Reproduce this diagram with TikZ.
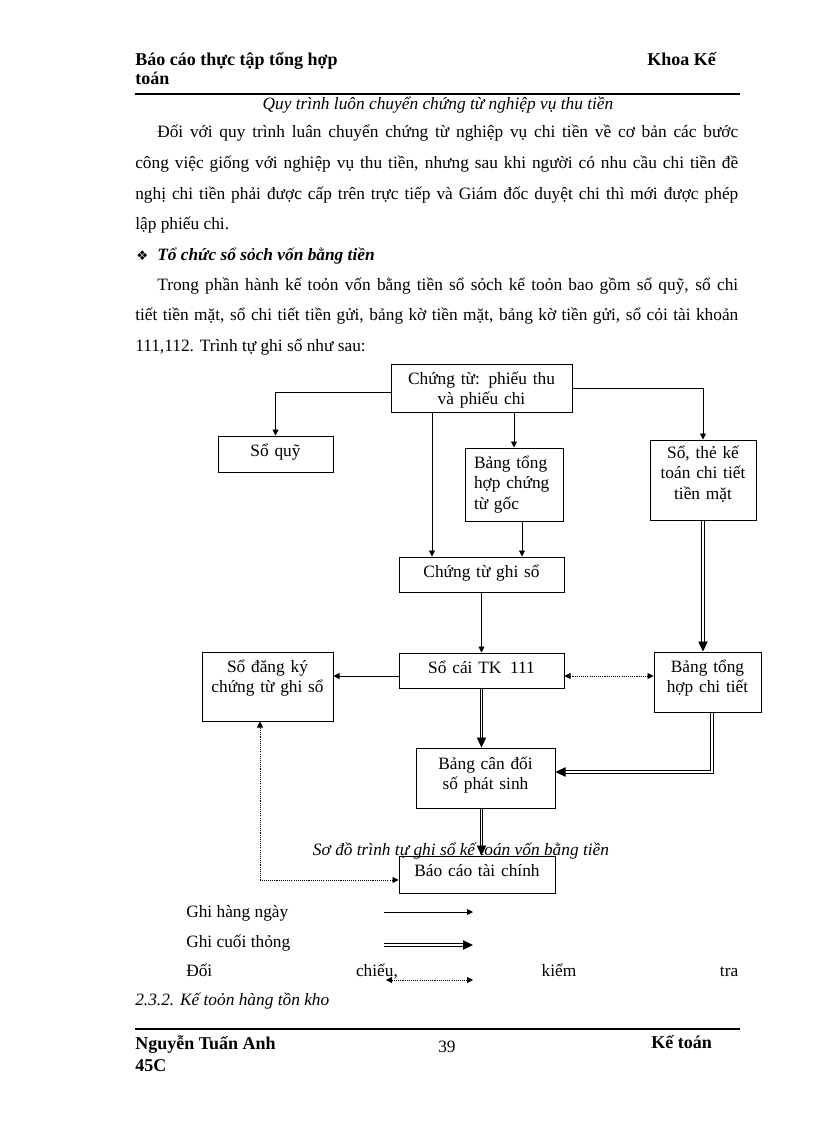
\documentclass[tikz,border=0pt]{standalone}
\usepackage{fontspec}
\setmainfont{Liberation Serif}
\newfontfamily\dingfont{DejaVu Sans}
\usetikzlibrary{arrows.meta}
\newdimen\pxu
\pxu=0.75pt
\newcommand\bodyfont{\fontsize{13}{23}\selectfont}
\newcommand\boxfont{\fontsize{13}{15.4}\selectfont}
\newcommand\hdrfont{\fontsize{13.5}{15}\selectfont\bfseries}
\newcommand\capfont{\fontsize{13}{15}\selectfont\itshape}
\tikzset{
  txt/.style={
    anchor=base west,
    inner sep=0pt,
    font=\bodyfont
  },
  para/.style={
    txt,
    text width=452.25pt,
    align=justify
  },
  box/.style={
    draw,
    line width=0.75pt,
    inner sep=0pt,
    anchor=base,
    align=center,
    font=\boxfont
  },
  dims/.style n args={3}{
    text width=#1\pxu,
    text height=#2\pxu,
    text depth=#3\pxu
  },
  arr/.style={
    -{Triangle[length=4.5pt,width=4.5pt]},
    line width=0.6pt
  },
  dbl/.style={
    -{Triangle[length=7.5pt,width=7pt]},
    double,
    double distance=0.9pt,
    line width=0.7pt
  },
  chk/.style={
    {Triangle[length=4.5pt,width=4.5pt]}-{Triangle[length=4.5pt,width=4.5pt]},
    line width=0.6pt,
    dash pattern=on 0.8pt off 0.8pt
  },
  rule/.style={
    line width=1.5pt
  }
}

\begin{document}
\begin{tikzpicture}[x=0.75pt, y=-0.75pt]
    \path[use as bounding box, fill=white] (0,0) rectangle (816,1123);

    % page header
    \node[txt, font=\hdrfont] (hdl) at (135,66) {Báo cáo thực tập tổng hợp};
    \node[txt, font=\hdrfont] (hdl2) at (135,85) {toán};
    \node[txt, font=\hdrfont] (hdr) at (647,66) {Khoa Kế};
    \draw[rule] (135,94) -- (740,94);
    \node[txt, font=\capfont, anchor=base] (cap1) at (438,110) {Quy trình luôn chuyển chứng từ nghiệp vụ thu tiền};

    % text
    \node[para] (par1) at (135,138) {\hspace*{16.5pt}Đối với quy trình luân chuyển chứng từ nghiệp vụ chi tiền về cơ bản các bước\linebreak công việc giống với nghiệp vụ thu tiền, nhưng sau khi người có nhu cầu chi tiền đề\linebreak nghị chi tiền phải được cấp trên trực tiếp và Giám đốc duyệt chi thì mới được phép\linebreak lập phiếu chi.};
    \node[txt, font=\dingfont\fontsize{10}{11}\selectfont] (bul) at (136,260) {❖};
    \node[txt, font=\bodyfont\bfseries\itshape] (sec1) at (157,260) {Tổ chức sổ sỏch vốn bằng tiền};
    \node[para] (par2) at (135,290) {\hspace*{16.5pt}Trong phần hành kế toỏn vốn bằng tiền sổ sỏch kế toỏn bao gồm sổ quỹ, sổ chi\linebreak tiết tiền mặt, sổ chi tiết tiền gửi, bảng kờ tiền mặt, bảng kờ tiền gửi, sổ cỏi tài khoản\linebreak 111,112. Trình tự ghi sổ như sau:};

    % boxes
    \node[box, dims={181}{20}{28}] (ctu) at (481.5,384) {Chứng từ: phiếu thu\\và phiếu chi};
    \node[box, dims={115}{20}{16}] (soquy) at (275.5,456) {Sổ quỹ};
    \node[box, dims={80}{20}{53}, align=left, inner xsep=6.75pt] (bangth) at (514,468) {Bảng tổng\\hợp chứng\\từ gốc};
    \node[box, dims={106}{18}{62}] (sothe) at (703,458) {Sổ, thẻ kế\\toán chi tiết\\tiền mặt};
    \node[box, dims={165}{20}{15}] (ctgs) at (481.5,577) {Chứng từ ghi sổ};
    \node[box, dims={165}{20}{15}] (socai) at (481.5,673) {Sổ cái TK \,111};
    \node[box, dims={131}{20}{49}] (sodk) at (267.5,672) {Sổ đăng ký\\chứng từ ghi sổ};
    \node[box, dims={107}{20}{40}] (bangct) at (707.5,672) {Bảng tổng\\hợp chi tiết};
    \node[box, dims={139}{21}{39}] (bangcd) at (485.5,769) {Bảng cân đối\\số phát sinh};
    \node[box, dims={156}{20}{17}] (bctc) at (477,876) {Báo cáo tài chính};

    \coordinate (xb) at (432,0);
    \coordinate (xe) at (522,0);
    \coordinate (xk) at (712,0);
    \coordinate (xm) at (260,0);
    \coordinate (yg) at (0,676);
    \coordinate (yk) at (0,772);
    \coordinate (ym) at (0,880);

    % connectors
    \draw[arr] ([yshift=-3pt]ctu.west) -| (soquy.north);
    \draw[arr] (ctu.south -| xb) -- (ctgs.north -| xb);
    \draw[arr] (ctu.south -| bangth.north) -- (bangth.north);
    \draw[arr] (ctu.east) -| (sothe.north);
    \draw[arr] (bangth.south -| xe) -- (ctgs.north -| xe);
    \draw[arr] (ctgs.south) -- (socai.north);
    \draw[arr] (socai.west |- yg) -- (sodk.east |- yg);
    \draw[dbl] (sothe.south) -- (sothe.south |- bangct.north);
    \draw[chk] (socai.east |- yg) -- (bangct.west |- yg);
    \draw[dbl] (socai.south) -- (socai.south |- bangcd.north);
    \draw[dbl] (bangct.south -| xk) |- (bangcd.east |- yk);
    \draw[dbl] (bangcd.south -| socai.south) -- (socai.south |- bctc.north);
    \draw[chk] (bctc.west |- ym) -| (sodk.south -| xm);

    \node[txt, font=\capfont, anchor=base] (cap2) at (461,855) {Sơ đồ trình tự ghi sổ kế toán vốn bằng tiền};

    % legend
    \node[txt] (lg1) at (186,917) {Ghi hàng ngày};
    \node[txt] (lg2) at (186,947) {Ghi cuối thỏng};
    \node[txt] (lg3) at (186,976) {\hbox to 414pt{Đối\hfill chiếu,\hfill kiểm\hfill tra}};
    \coordinate (l1a) at (384,912);
    \coordinate (l1b) at (473,912);
    \coordinate (l2a) at (384,945);
    \coordinate (l2b) at (473,945);
    \coordinate (l3a) at (386,980);
    \coordinate (l3b) at (473,980);
    \draw[arr] (l1a) -- (l1b);
    \draw[dbl] (l2a) -- (l2b);
    \draw[chk] (l3a) -- (l3b);
    \node[txt, font=\capfont] (sec2) at (135,1005) {2.3.2. Kế toỏn hàng tồn kho};

    % page footer
    \draw[rule] (135,1029) -- (740,1029);
    \node[txt, font=\hdrfont] (ftl) at (135,1049) {Nguyễn Tuấn Anh};
    \node[txt, font=\hdrfont] (ftl2) at (135,1071) {45C};
    \node[txt] (pgno) at (438,1052) {39};
    \node[txt, font=\hdrfont] (ftr) at (651,1048) {Kế toán};
\end{tikzpicture}
\end{document}
